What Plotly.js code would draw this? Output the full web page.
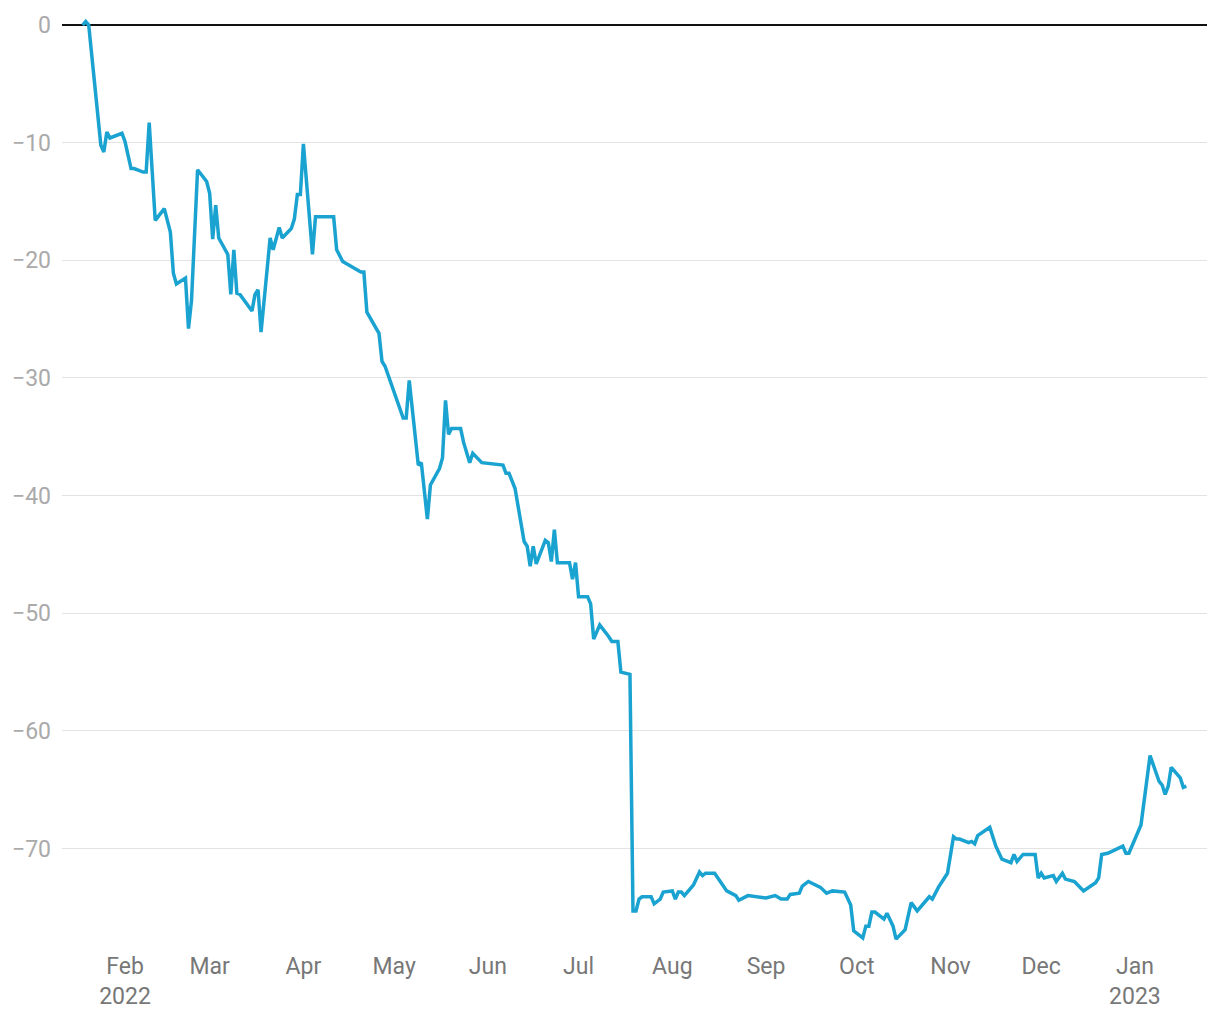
<!DOCTYPE html>
<html>
<head>
<meta charset="utf-8">
<script src="https://cdn.plot.ly/plotly-3.0.1.min.js"></script>
<style>
  html, body { margin: 0; padding: 0; background: #fff; }
  #chart { width: 1220px; height: 1020px; }
</style>
</head>
<body>
<div id="chart"></div>
<script>
const dates = [
  "2022-01-18","2022-01-19","2022-01-20","2022-01-24","2022-01-25","2022-01-26","2022-01-27","2022-01-31",
  "2022-02-01","2022-02-03","2022-02-04","2022-02-07","2022-02-08","2022-02-09","2022-02-11","2022-02-14",
  "2022-02-16","2022-02-17","2022-02-18","2022-02-21","2022-02-22","2022-02-23","2022-02-25","2022-02-28",
  "2022-03-01","2022-03-02","2022-03-03","2022-03-04","2022-03-07","2022-03-08","2022-03-09","2022-03-10",
  "2022-03-11","2022-03-15","2022-03-16","2022-03-17","2022-03-18","2022-03-21","2022-03-22","2022-03-24",
  "2022-03-25","2022-03-28","2022-03-29","2022-03-30","2022-03-31","2022-04-01","2022-04-04","2022-04-05",
  "2022-04-11","2022-04-12","2022-04-14","2022-04-20","2022-04-21","2022-04-22","2022-04-26","2022-04-27",
  "2022-04-28","2022-05-04","2022-05-05","2022-05-06","2022-05-09","2022-05-10","2022-05-12","2022-05-13",
  "2022-05-16","2022-05-17","2022-05-18","2022-05-19","2022-05-20","2022-05-23","2022-05-24","2022-05-26",
  "2022-05-27","2022-05-30","2022-06-06","2022-06-07","2022-06-08","2022-06-09","2022-06-10","2022-06-13",
  "2022-06-14","2022-06-15","2022-06-16","2022-06-17","2022-06-20","2022-06-21","2022-06-22","2022-06-23",
  "2022-06-24","2022-06-28","2022-06-29","2022-06-30","2022-07-01","2022-07-04","2022-07-05","2022-07-06",
  "2022-07-08","2022-07-11","2022-07-12","2022-07-14","2022-07-15","2022-07-18","2022-07-19","2022-07-20",
  "2022-07-21","2022-07-22","2022-07-25","2022-07-26","2022-07-28","2022-07-29","2022-08-01","2022-08-02",
  "2022-08-03","2022-08-04","2022-08-05","2022-08-08","2022-08-10","2022-08-11","2022-08-12","2022-08-15",
  "2022-08-17","2022-08-19","2022-08-22","2022-08-23","2022-08-26","2022-09-01","2022-09-04","2022-09-06",
  "2022-09-08","2022-09-09","2022-09-12","2022-09-13","2022-09-15","2022-09-19","2022-09-21","2022-09-23",
  "2022-09-27","2022-09-29","2022-09-30","2022-10-03","2022-10-04","2022-10-05","2022-10-06","2022-10-07",
  "2022-10-10","2022-10-11","2022-10-13","2022-10-14","2022-10-17","2022-10-18","2022-10-19","2022-10-21",
  "2022-10-25","2022-10-26","2022-10-28","2022-10-31","2022-11-02","2022-11-03","2022-11-04","2022-11-07",
  "2022-11-08","2022-11-09","2022-11-10","2022-11-14","2022-11-16","2022-11-18","2022-11-21","2022-11-22",
  "2022-11-23","2022-11-25","2022-11-29","2022-11-30","2022-12-01","2022-12-02","2022-12-05","2022-12-06",
  "2022-12-08","2022-12-09","2022-12-12","2022-12-15","2022-12-19","2022-12-20","2022-12-21","2022-12-23",
  "2022-12-28","2022-12-29","2022-12-30","2023-01-03","2023-01-06","2023-01-09","2023-01-10","2023-01-11",
  "2023-01-12","2023-01-13","2023-01-16","2023-01-17","2023-01-18"
];
const changePct = [
  0.0, 0.3, 0.0, -10.2, -10.8, -9.1, -9.6, -9.2,
  -9.9, -12.2, -12.2, -12.5, -12.5, -8.3, -16.6, -15.6,
  -17.6, -21.1, -22.0, -21.5, -25.8, -23.4, -12.3, -13.3,
  -14.3, -18.2, -15.3, -18.1, -19.5, -22.9, -19.1, -22.8,
  -22.9, -24.3, -22.9, -22.5, -26.1, -18.1, -19.1, -17.2,
  -18.1, -17.3, -16.5, -14.4, -14.4, -10.1, -19.5, -16.3,
  -16.3, -19.1, -20.1, -21.0, -21.0, -24.4, -26.2, -28.6,
  -29.0, -33.4, -33.4, -30.2, -37.4, -37.2, -42.0, -39.1,
  -37.7, -36.8, -31.9, -34.8, -34.3, -34.3, -35.5, -37.2,
  -36.4, -37.2, -37.4, -38.1, -38.1, -38.7, -39.4, -43.9,
  -44.3, -46.0, -44.3, -45.8, -43.8, -44.0, -45.6, -42.9,
  -45.7, -45.7, -47.1, -45.7, -48.6, -48.6, -49.2, -52.2,
  -51.0, -52.0, -52.4, -52.4, -55.0, -55.2, -75.3, -75.3,
  -74.3, -74.1, -74.1, -74.7, -74.3, -73.7, -73.6, -74.3,
  -73.7, -73.7, -74.0, -73.1, -72.0, -72.3, -72.1, -72.1,
  -72.9, -73.6, -74.0, -74.4, -74.0, -74.2, -74.0, -74.3,
  -74.3, -73.9, -73.8, -73.2, -72.8, -73.3, -73.8, -73.6,
  -73.7, -74.8, -77.0, -77.6, -76.6, -76.6, -75.4, -75.4,
  -76.0, -75.5, -76.6, -77.7, -76.9, -75.8, -74.6, -75.3,
  -74.1, -74.3, -73.3, -72.1, -69.0, -69.2, -69.2, -69.5,
  -69.4, -69.6, -68.9, -68.2, -69.8, -70.9, -71.2, -70.5,
  -71.1, -70.5, -70.5, -72.5, -72.1, -72.5, -72.3, -72.8,
  -72.1, -72.6, -72.8, -73.6, -72.9, -72.5, -70.5, -70.4,
  -69.8, -70.4, -70.4, -68.0, -62.1, -64.3, -64.6, -65.4,
  -64.7, -63.1, -64.0, -64.8, -64.7
];
const yTicks = [0, -10, -20, -30, -40, -50, -60, -70];
const xTickDates = [
  "2022-02-01","2022-03-01","2022-04-01","2022-05-01","2022-06-01","2022-07-01",
  "2022-08-01","2022-09-01","2022-10-01","2022-11-01","2022-12-01","2023-01-01"
];
const xTickLabels = [
  "Feb<br>2022","Mar","Apr","May","Jun","Jul",
  "Aug","Sep","Oct","Nov","Dec","Jan<br>2023"
];

const trace = {
  x: dates,
  y: changePct,
  type: 'scatter',
  mode: 'lines',
  line: { color: '#1aa3d0', width: 3.5 },
  hoverinfo: 'x+y'
};

const layout = {
  width: 1220,
  height: 1020,
  margin: { l: 62, r: 13, t: 8, b: 75 },
  paper_bgcolor: '#ffffff',
  plot_bgcolor: '#ffffff',
  showlegend: false,
  font: { family: 'Roboto, sans-serif', size: 23, color: '#777777' },
  xaxis: {
    type: 'date',
    range: ['2022-01-11 04:00', '2023-01-24 20:00'],
    tickmode: 'array',
    tickvals: xTickDates,
    ticktext: xTickLabels,
    tickangle: 0,
    showgrid: false,
    zeroline: false,
    showline: false,
    ticks: '',
    ticklabelstandoff: 5,
    tickfont: { family: 'Roboto, sans-serif', size: 23, color: '#777777' }
  },
  yaxis: {
    range: [-78.2, 1.45],
    tickvals: yTicks,
    showgrid: true,
    gridcolor: '#e3e3e3',
    gridwidth: 1,
    zeroline: true,
    zerolinecolor: '#111111',
    zerolinewidth: 2,
    showline: false,
    ticks: '',
    ticklabelstandoff: 10,
    tickfont: { family: 'Roboto, sans-serif', size: 23, color: '#aaaaaa' }
  }
};

Plotly.newPlot('chart', [trace], layout, { displayModeBar: false, staticPlot: true });
</script>
</body>
</html>
